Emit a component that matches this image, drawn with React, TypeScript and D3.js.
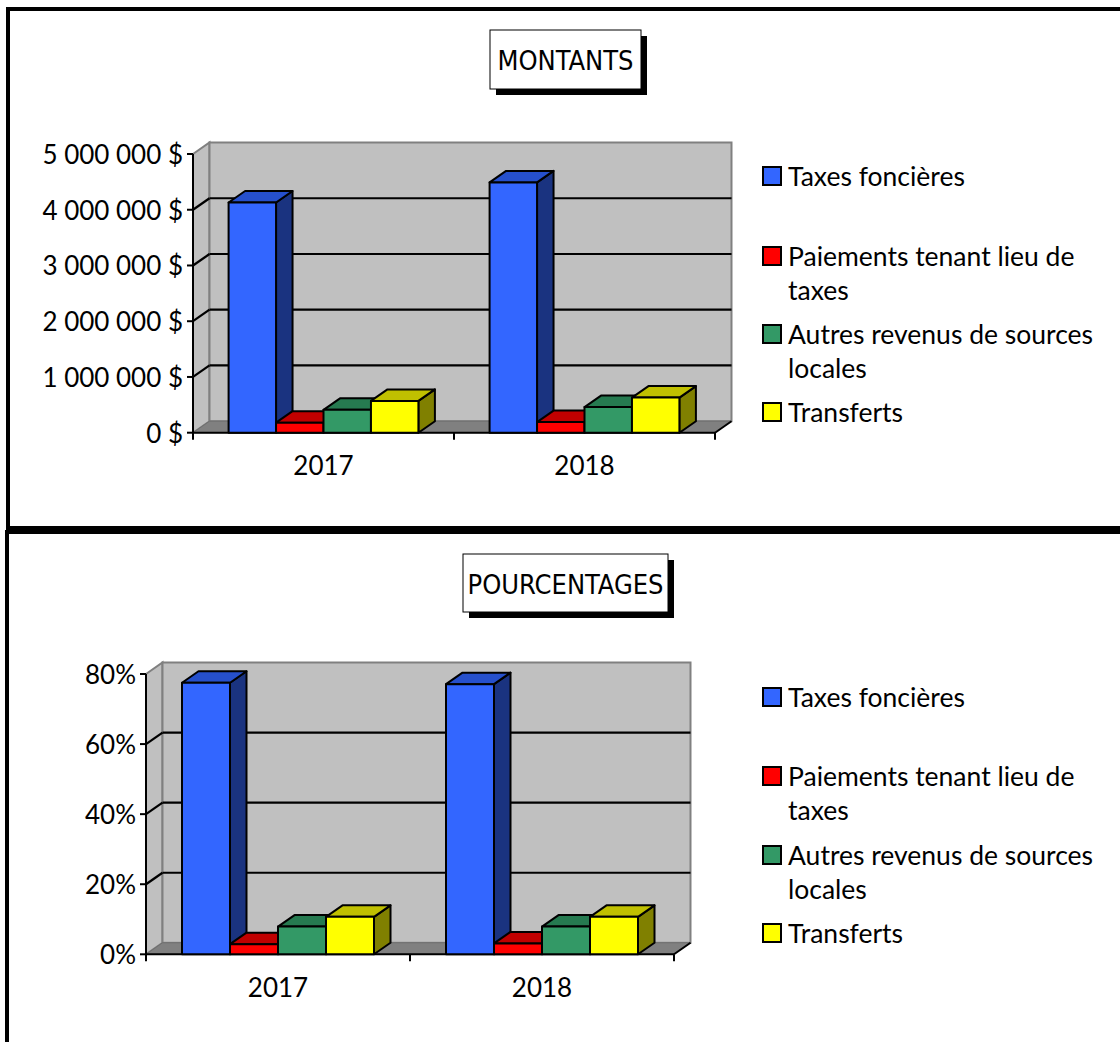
import React from 'react';
import * as d3 from 'd3';

const years = ['2017', '2018'];
const seriesNames = [
  'Taxes foncières',
  'Paiements tenant lieu de taxes',
  'Autres revenus de sources locales',
  'Transferts',
];
const legendLines = [
  ['Taxes foncières'],
  ['Paiements tenant lieu de', 'taxes'],
  ['Autres revenus de sources', 'locales'],
  ['Transferts'],
];
const montants2017 = [4130000, 180000, 410000, 570000];
const montants2018 = [4490000, 190000, 460000, 630000];
const pct2017 = [0.775, 0.029, 0.079, 0.107];
const pct2018 = [0.771, 0.031, 0.079, 0.107];
const montantTicks = [0, 1000000, 2000000, 3000000, 4000000, 5000000];
const pctTicks = [0, 0.2, 0.4, 0.6, 0.8];

const frontColors = ['#3366FF', '#FF0000', '#339966', '#FFFF00'];
const topColors = ['#2650CC', '#C00000', '#267A50', '#C0C000'];
const sideColors = ['#1A3380', '#800000', '#1A4D33', '#808000'];

const DX = 16.5;
const DY = -11.5;
const FONT = 'Lato, "Open Sans", sans-serif';
const TITLE_FONT = '"DejaVu Sans Condensed", "DejaVu Sans", sans-serif';

const frLocale = d3.formatLocale({
  decimal: ',',
  thousands: ' ',
  grouping: [3],
  currency: ['', ' $'],
});
const fmtMontant = frLocale.format('$,');
const fmtPct = d3.format('.0%');

type Box = { x: number; y: number; w: number; h: number };

type ChartProps = {
  title: string;
  box: Box;
  x0: number;
  x1: number;
  base: number;
  top: number;
  max: number;
  ticks: number[];
  fmt: (v: number) => string;
  data: number[][];
  legendY: number[];
  yearY: number;
};

const Chart = ({ title, box, x0, x1, base, top, max, ticks, fmt, data, legendY, yearY }: ChartProps) => {
  const x = d3.scaleBand().domain(years).range([x0, x1]);
  const s = d3
    .scaleBand()
    .domain(seriesNames)
    .range([0, x.bandwidth()])
    .paddingInner(0)
    .paddingOuter(0.75);
  const y = d3.scaleLinear().domain([0, max]).range([base, top]);
  const yT = y(max);
  const w = s.bandwidth();

  const pts = (p: number[][]) => p.map((q) => q.join(',')).join(' ');

  return (
    <g>
      {/* walls */}
      <polygon
        points={pts([[x0, yT], [x0 + DX, yT + DY], [x0 + DX, base + DY], [x0, base]])}
        fill="#C0C0C0"
        stroke="#808080"
        strokeWidth={2}
      />
      <rect
        x={x0 + DX}
        y={yT + DY}
        width={x1 - x0}
        height={base - yT}
        fill="#C0C0C0"
        stroke="#808080"
        strokeWidth={2}
      />
      <polygon
        points={pts([[x0, base], [x0 + DX, base + DY], [x1 + DX, base + DY], [x1, base]])}
        fill="#808080"
        stroke="#6e6e6e"
        strokeWidth={1}
      />
      {ticks
        .filter((t) => t > 0 && t < max)
        .map((t) => (
          <g key={'g' + t}>
            <line x1={x0 + DX} x2={x1 + DX} y1={y(t) + DY} y2={y(t) + DY} stroke="#000" strokeWidth={2.2} />
            <line x1={x0} x2={x0 + DX} y1={y(t)} y2={y(t) + DY} stroke="#000" strokeWidth={2.2} />
          </g>
        ))}
      {/* axes */}
      <line x1={x0} x2={x0} y1={yT} y2={base} stroke="#000" strokeWidth={2} />
      {ticks.map((t) => (
        <g key={'t' + t}>
          <line x1={x0 - 6} x2={x0} y1={y(t)} y2={y(t)} stroke="#000" strokeWidth={2} />
          <text
            x={x0 - 10}
            y={y(t)}
            textAnchor="end"
            dominantBaseline="central"
            fontFamily={FONT}
            fontSize={26}
          >
            {fmt(t)}
          </text>
        </g>
      ))}
      <line x1={x0} x2={x1} y1={base} y2={base} stroke="#000" strokeWidth={2} />
      <line x1={x1} x2={x1 + DX} y1={base} y2={base + DY} stroke="#000" strokeWidth={2} />
      {[x0, x0 + x.bandwidth(), x1].map((p, i) => (
        <line key={'xt' + i} x1={p} x2={p} y1={base} y2={base + 7} stroke="#000" strokeWidth={2} />
      ))}
      {/* bars */}
      {years.map((yr, ci) =>
        seriesNames.map((sn, si) => {
          const bx = (x(yr) as number) + (s(sn) as number);
          const by = y(data[ci][si]);
          return (
            <g key={yr + si} stroke="#000" strokeWidth={2} strokeLinejoin="round">
              <polygon
                points={pts([[bx + w, by], [bx + w + DX, by + DY], [bx + w + DX, base + DY], [bx + w, base]])}
                fill={sideColors[si]}
              />
              <polygon
                points={pts([[bx, by], [bx + DX, by + DY], [bx + w + DX, by + DY], [bx + w, by]])}
                fill={topColors[si]}
              />
              <rect x={bx} y={by} width={w} height={base - by} fill={frontColors[si]} />
            </g>
          );
        })
      )}
      {years.map((yr) => (
        <text
          key={'y' + yr}
          x={(x(yr) as number) + x.bandwidth() / 2}
          y={yearY}
          textAnchor="middle"
          dominantBaseline="central"
          fontFamily={FONT}
          fontSize={26}
        >
          {yr}
        </text>
      ))}
      {/* legend */}
      {legendLines.map((lines, i) => (
        <g key={'l' + i}>
          <rect
            x={763}
            y={legendY[i] - 9}
            width={18}
            height={18}
            fill={frontColors[i]}
            stroke="#000"
            strokeWidth={2}
          />
          {lines.map((ln, j) => (
            <text
              key={j}
              x={788}
              y={legendY[i] + j * 34}
              dominantBaseline="central"
              fontFamily={FONT}
              fontSize={26.5}
            >
              {ln}
            </text>
          ))}
        </g>
      ))}
      {/* title */}
      <rect x={box.x + 6} y={box.y + 6} width={box.w} height={box.h} fill="#000" />
      <rect x={box.x} y={box.y} width={box.w} height={box.h} fill="#fff" stroke="#000" strokeWidth={1} />
      <text
        x={box.x + box.w / 2}
        y={box.y + box.h / 2 + 1}
        textAnchor="middle"
        dominantBaseline="central"
        fontFamily={TITLE_FONT}
        fontSize={27}
      >
        {title}
      </text>
    </g>
  );
};

export default function App() {
  return (
    <div style={{ position: 'absolute', left: 0, top: 0 }}>
      <svg width={1120} height={1042} style={{ display: 'block', background: '#fff' }}>
        {/* panel frames */}
        <rect x={6} y={7} width={1120} height={4} fill="#000" />
        <rect x={6} y={7} width={4} height={523} fill="#000" />
        <rect x={6} y={526} width={1120} height={8} fill="#000" />
        <rect x={5} y={530} width={4} height={520} fill="#000" />
        <Chart
          title="MONTANTS"
          box={{ x: 490, y: 30, w: 151, h: 59 }}
          x0={193}
          x1={715}
          base={432.7}
          top={154}
          max={5000000}
          ticks={montantTicks}
          fmt={fmtMontant}
          data={[montants2017, montants2018]}
          legendY={[176, 256, 334, 412]}
          yearY={465}
        />
        <Chart
          title="POURCENTAGES"
          box={{ x: 463, y: 554, w: 205, h: 58 }}
          x0={146}
          x1={674}
          base={954.3}
          top={674}
          max={0.8}
          ticks={pctTicks}
          fmt={fmtPct}
          data={[pct2017, pct2018]}
          legendY={[697, 776, 855, 933]}
          yearY={987}
        />
      </svg>
    </div>
  );
}
